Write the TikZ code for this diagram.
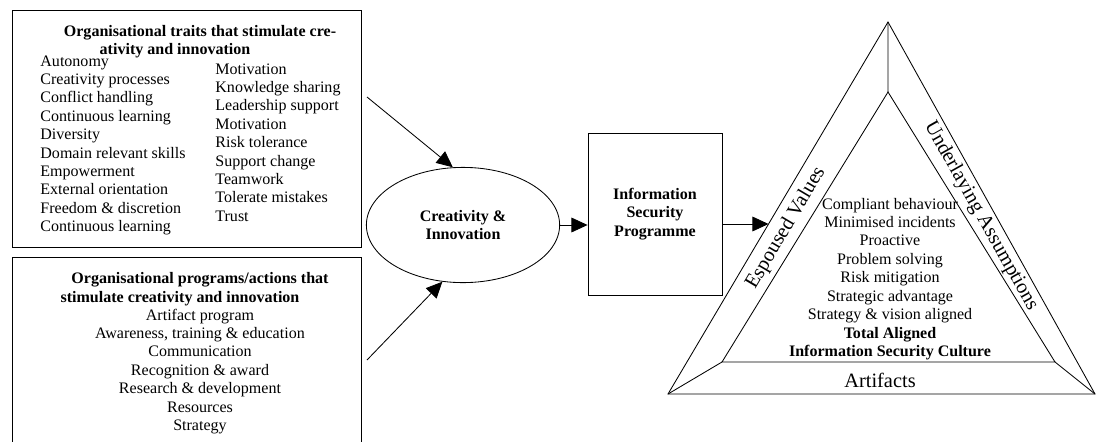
\documentclass[tikz,border=0pt]{standalone}
\usepackage{fontspec}
\setmainfont{Liberation Serif}
\usetikzlibrary{arrows.meta,calc,shapes.geometric}
\tikzset{
  item/.style={inner sep=0pt, font=\fontsize{11.4}{13}\selectfont},
  head/.style={inner sep=0pt, font=\fontsize{11.4}{13}\selectfont\bfseries},
  big/.style={inner sep=0pt, font=\fontsize{14.5}{17}\selectfont},
  flow/.style={-{Triangle[length=11.5pt,width=10.5pt]}},
}
\begin{document}
\begin{tikzpicture}[x=0.025cm, y=-0.025cm, line width=0.6pt]
    \useasboundingbox (0,0) rectangle (1096,441);

    % Traits box
    \draw (12,10) rectangle (361,247);
    \node[head, anchor=base] (th1) at (200,36.5) {Organisational traits that stimulate cre-};
    \node[head, anchor=base] (th2) at (175,54) {ativity and innovation};
    \foreach \val [count=\i] in {
        Autonomy,
        Creativity processes,
        Conflict handling,
        Continuous learning,
        Diversity,
        Domain relevant skills,
        Empowerment,
        External orientation,
        Freedom \& discretion,
        Continuous learning
        } {
        \node[item, anchor=base west] (tl\i) at (40, 47.6+18.4*\i) {\val};
    }
    \foreach \val [count=\i] in {
        Motivation,
        Knowledge sharing,
        Leadership support,
        Motivation,
        Risk tolerance,
        Support change,
        Teamwork,
        Tolerate mistakes,
        Trust
        } {
        \node[item, anchor=base west] (tr\i) at (215, 55.6+18.4*\i) {\val};
    }

    % Programs box
    \draw (12,450) |- (361,257) -- (361,450);
    \node[head, anchor=base] (ph1) at (200,283) {Organisational programs/actions that};
    \node[head, anchor=base] (ph2) at (180,302) {stimulate creativity and innovation};
    \foreach \val [count=\i] in {
        Artifact program,
        {Awareness, training \& education},
        Communication,
        Recognition \& award,
        Research \& development,
        Resources,
        Strategy
        } {
        \node[item, anchor=base] (pl\i) at (200, 301.6+18.4*\i) {\val};
    }

    % Creativity and programme
    \node[draw, ellipse, head, align=center, minimum width=4.83cm, minimum height=2.88cm] (crea) at (463,225) {Creativity \&\\Innovation};
    \node[draw, head, align=center, minimum width=3.35cm, minimum height=4.05cm] (isp) at (655,214) {Information\\Security\\Programme};

    \coordinate (a1) at (367,97);
    \coordinate (a2) at (367,360);
    \draw[flow] (a1) -- (crea.100);
    \draw[flow] (a2) -- (crea.250);
    \draw[flow] (crea.east) -- (crea.east -| isp.west);

    % Culture triangle
    \coordinate (o1) at (888,22);
    \coordinate (o2) at (668,394);
    \coordinate (o3) at (1095,394);
    \coordinate (i1) at (888,92);
    \coordinate (i2) at (722,362);
    \coordinate (i3) at (1055,362);
    \draw (o1) -- (o2) -- (o3) -- cycle;
    \draw (i1) -- (i2) -- (i3) -- cycle;
    \draw (o1) -- (i1) (o2) -- (i2) (o3) -- (i3);

    \coordinate (a4) at ($(o1)!0.543!(o2)$);
    \draw[flow] (a4 -| isp.east) -- (a4);

    \node[big, rotate=59.4] (ev) at (786,228) {Espoused Values};
    \node[big, rotate=-60.7] (ua) at (981,216) {Underlaying Assumptions};
    \node[big, anchor=base] (art) at (880,387) {Artifacts};

    \foreach \val [count=\i] in {
        Compliant behaviour,
        Minimised incidents,
        Proactive,
        Problem solving,
        Risk mitigation,
        Strategic advantage,
        Strategy \& vision aligned
        } {
        \node[item, anchor=base] (cl\i) at (890, 190.6+18.4*\i) {\val};
    }
    \node[head, anchor=base] (cl8) at (890,338.2) {Total Aligned};
    \node[head, anchor=base] (cl9) at (890,356.6) {Information Security Culture};
\end{tikzpicture}
\end{document}
